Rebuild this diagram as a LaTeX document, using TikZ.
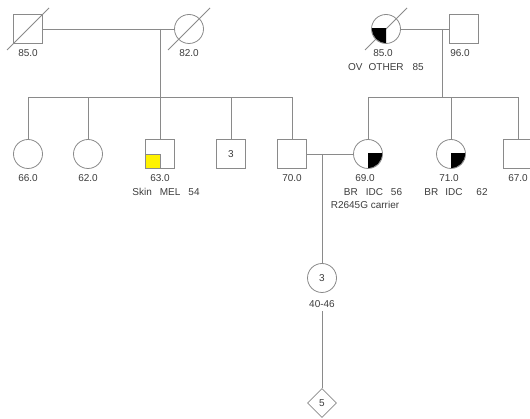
\documentclass[tikz,border=0pt]{standalone}
\usepackage{fontspec}
\setmainfont{Liberation Sans}
\usetikzlibrary{positioning,shapes.geometric}
\definecolor{pedline}{HTML}{8A8A8A}
\definecolor{pedtext}{HTML}{3C3C3C}

\begin{document}
\begin{tikzpicture}[x=1pt, y=-1pt, font=\fontsize{10}{12}\selectfont,
  line width=0.8pt, color=pedline,
  male/.style={draw=pedline, fill=white, rectangle, minimum size=29pt, inner sep=0pt, text=pedtext},
  female/.style={male, circle},
  unk/.style={male, diamond},
  lbl/.style={inner sep=1pt, text height=7.5pt, text depth=2pt, text=pedtext}]
\useasboundingbox (0,0) rectangle (530,419);
% generation I
\node[male] (gf) at (28,29) {};
\node[female] (gm) at (189,29) {};
\node[female] (mgm) at (386,29) {};
\node[male] (mgf) at (464,29) {};
% generation II
\node[female] (s66) at (28,154) {};
\node[female] (s62) at (88,154) {};
\node[male] (b63) at (160,154) {};
\node[male] (b3) at (231,154) {3};
\node[male] (f70) at (292,154) {};
\node[female] (m69) at (368,154) {};
\node[female] (s71) at (451,154) {};
\node[male] (b67) at (518,154) {};
% generation III
\node[female] (d3) at (322,278) {3};
\node[unk] (g5) at (322,403) {5};
% deceased
\foreach \p in {gf,gm,mgm}
  \draw (\p.center) ++(-21,21) -- ++(42,-42);
% affected
\foreach \p/\q in {mgm/west, m69/east, s71/east} {
  \begin{scope}
    \clip (\p.center) rectangle (\p.\q |- \p.south);
    \fill[black] (\p.center) circle[radius=14pt];
  \end{scope}
}
\filldraw[fill=yellow] (b63.center) rectangle (b63.south west);
% lines
\coordinate (sibL) at (160,97);
\coordinate (sibR) at (442,97);
\coordinate (cpl) at (322,154);
\draw (gf) -- (gm);
\draw (mgm) -- (mgf);
\draw (gf -| sibL) -- (sibL);
\draw (mgm -| sibR) -- (sibR);
\draw (s66.north) |- (f70.north |- sibL) -- (f70.north);
\foreach \k in {s62,b63,b3}
  \draw (\k.north) -- (\k.north |- sibL);
\draw (m69.north) |- (b67.north |- sibR) -- (b67.north);
\draw (s71.north) -- (s71.north |- sibR);
\draw (f70) -- (m69);
\draw (cpl) -- (d3);
% labels
\node[lbl, below=4pt of gf] {85.0};
\node[lbl, below=4pt of gm] {82.0};
\node[lbl, below=4pt of mgm, xshift=-3pt] (mgma) {85.0};
\node[lbl, below=1pt of mgma, xshift=3pt] {OV\hspace{6pt}OTHER\hspace{9pt}85};
\node[lbl, below=4pt of mgf, xshift=-4pt] {96.0};
\node[lbl, below=4pt of s66] {66.0};
\node[lbl, below=4pt of s62] {62.0};
\node[lbl, below=4pt of b63] (b63a) {63.0};
\node[lbl, below=1pt of b63a, xshift=6pt] {Skin\hspace{8pt}MEL\hspace{8pt}54};
\node[lbl, below=4pt of f70] {70.0};
\node[lbl, below=4pt of m69, xshift=-3pt] (m69a) {69.0};
\node[lbl, below=1pt of m69a, xshift=8pt] (m69b) {BR\hspace{8pt}IDC\hspace{8pt}56};
\node[lbl, below=1pt of m69b, xshift=-8pt] {R2645G carrier};
\node[lbl, below=4pt of s71, xshift=-2pt] (s71a) {71.0};
\node[lbl, below=1pt of s71a, xshift=7pt] {BR\hspace{7pt}IDC\hspace{14pt}62};
\node[lbl, below=4pt of b67] {67.0};
\node[lbl, below=6pt of d3] (d3a) {40-46};
\draw (d3a.south) -- (g5);
\end{tikzpicture}
\end{document}
